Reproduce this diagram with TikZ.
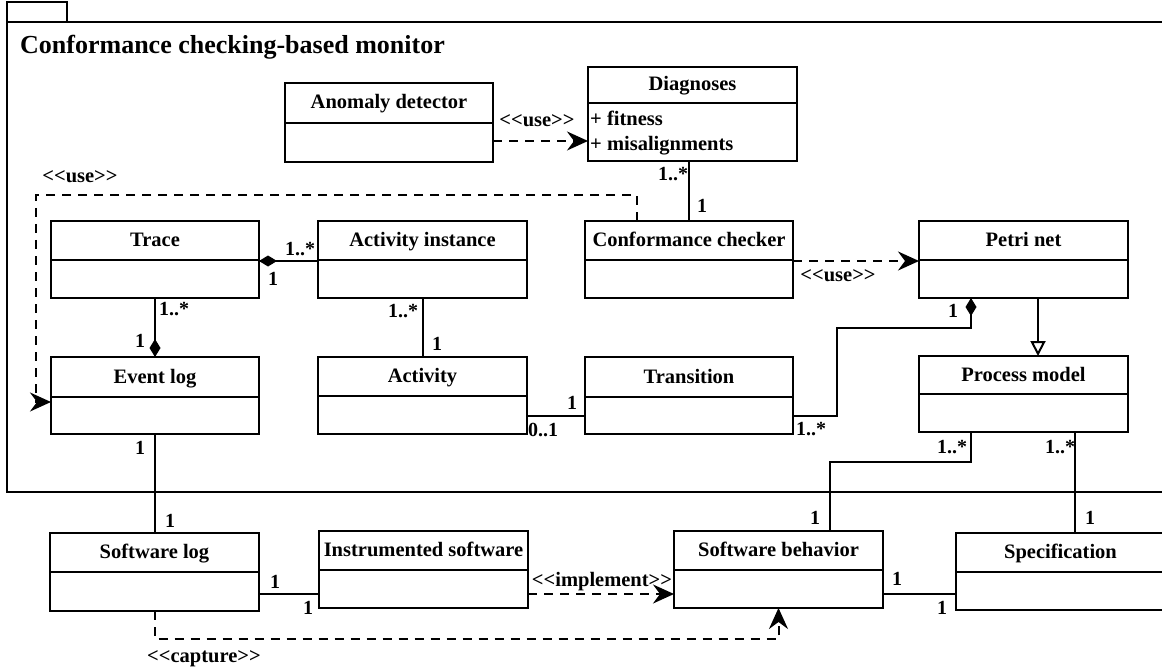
\documentclass[tikz,border=0pt]{standalone}
\usepackage{fontspec}
\setmainfont{Liberation Serif}
\usetikzlibrary{arrows.meta}

\tikzset{
  clsbox/.style={draw, line width=2pt, inner sep=0pt, outer sep=0pt, anchor=north west},
  clsline/.style={line width=2pt},
  clsname/.style={font=\fontsize{20.5}{24}\bfseries\selectfont, inner sep=0pt, anchor=base},
  attr/.style={font=\fontsize{20.5}{24}\bfseries\selectfont, inner sep=0pt, anchor=base west},
  mult/.style={font=\fontsize{20}{24}\bfseries\selectfont, inner sep=0pt, anchor=base},
  stereo/.style={font=\fontsize{20.5}{24}\bfseries\selectfont, inner sep=0pt, anchor=base},
  assoc/.style={line width=2pt},
  depend/.style={line width=2pt, dash pattern=on 9pt off 7pt,
    -{Stealth[length=21pt,width=19pt,inset=7pt]}},
  compose/.style={line width=2pt, -{Diamond[length=18pt,width=11pt]}},
  inherit/.style={line width=2pt, -{Triangle[open,length=15pt,width=15pt]}},
  frame/.style={line width=1.2pt},
}

% UML class: id, left, top, width, height, header height, name
\newcommand\umlcls[7]{%
  \node[clsbox, minimum width=#4pt, minimum height=#5pt] (#1) at (#2,#3) {};
  \draw[clsline] ([yshift=-#6pt]#1.north west) -- ([yshift=-#6pt]#1.north east);
  \node[clsname] (#1-name) at ([yshift=-#6pt/2-6pt]#1.north) {#7};
}
% stereotype guillemets spelled as two separate angle brackets
\newcommand\ster[1]{<\kern0pt<#1>\kern0pt>}

\begin{document}
\begin{tikzpicture}[x=1pt,y=-1pt]
\clip (0,0) rectangle (1162,671);
\fill[white] (0,0) rectangle (1162,671);

% package frame
\draw[frame] (7,2) rectangle (67,22);
\draw[frame] (7,22) rectangle (1185,492);
\node[font=\fontsize{26}{30}\bfseries\selectfont, anchor=base west, inner sep=0pt]
  (title) at (20,54) {Conformance checking-based monitor};

% classes
\umlcls{anom}{285}{83}{208}{79}{40}{Anomaly detector}
\umlcls{diag}{588}{67}{209}{94}{36}{Diagnoses}
\node[attr] (fit) at (590,126) {+ fitness};
\node[attr] (mis) at (590,151) {+ misalignments};
\umlcls{trace}{51}{221}{208}{77}{39}{Trace}
\umlcls{ainst}{318}{221}{209}{77}{39}{Activity instance}
\umlcls{cc}{585}{221}{208}{77}{39}{Conformance checker}
\umlcls{petri}{919}{221}{209}{77}{39}{Petri net}
\umlcls{elog}{51}{357}{208}{77}{40}{Event log}
\umlcls{act}{318}{357}{209}{77}{39}{Activity}
\umlcls{trans}{585}{357}{208}{77}{40}{Transition}
\umlcls{pm}{919}{356}{209}{76}{38}{Process model}
\umlcls{swlog}{50}{533}{209}{78}{39}{Software log}
\umlcls{instr}{319}{531}{209}{77}{39}{Instrumented software}
\umlcls{swb}{674}{531}{209}{77}{39}{Software behavior}
\umlcls{spec}{956}{533}{209}{77}{39}{Specification}

% connector anchor points
\coordinate (ccuse) at ([xshift=-52pt]cc.north);
\coordinate (petrid) at ([xshift=52pt]petri.south west);
\coordinate (petrig) at ([xshift=119pt]petri.south west);
\coordinate (pmg) at ([xshift=119pt]pm.north west);
\coordinate (pml) at ([xshift=52pt]pm.south west);
\coordinate (pmr) at ([xshift=156pt]pm.south west);
\coordinate (swbin) at ([xshift=156pt]swb.north west);

% connectors
\draw[depend] (anom.east |- 0,141) -- (diag.west |- 0,141);
\draw[assoc] (diag.south -| cc.north) -- (cc.north);
\draw[depend] (ccuse) |- (36,195) |- (elog.west |- 0,402);
\draw[compose] (ainst.west |- 0,261) -- (trace.east |- 0,261);
\draw[compose] (trace.south) -- (elog.north);
\draw[assoc] (ainst.south) -- (ainst.south |- act.north);
\draw[assoc] (act.east |- 0,416) -- (trans.west |- 0,416);
\draw[depend] (cc.east |- 0,261) -- (petri.west |- 0,261);
\draw[compose] (trans.east |- 0,416) -| (837,328) -| (petrid);
\draw[inherit] (petrig) -- (pmg);
\draw[assoc] (elog.south) -- (elog.south |- swlog.north);
\draw[assoc] (pml) |- (swbin |- 0,462) -- (swbin);
\draw[assoc] (pmr) -- (pmr |- spec.north);
\draw[assoc] (swlog.east |- 0,594) -- (instr.west |- 0,594);
\draw[depend] (instr.east |- 0,594) -- (swb.west |- 0,594);
\draw[assoc] (swb.east |- 0,594) -- (spec.west |- 0,594);
\draw[depend] (swlog.south) |- (swb.south |- 0,639) -- (swb.south);

% stereotypes
\node[stereo] (s1) at (537,127) {\ster{use}};
\node[stereo] (s2) at (80,183) {\ster{use}};
\node[stereo] (s3) at (838,281) {\ster{use}};
\node[stereo] (s4) at (602,586) {\ster{implement}};
\node[stereo] (s5) at (204,662) {\ster{capture}};

% multiplicities
\node[mult] (m1) at (673,181) {1..*};
\node[mult] (m2) at (702,213) {1};
\node[mult] (m3) at (300,255) {1..*};
\node[mult] (m4) at (273,285) {1};
\node[mult] (m5) at (174,315) {1..*};
\node[mult] (m6) at (140,347) {1};
\node[mult] (m7) at (403,317) {1..*};
\node[mult] (m8) at (437,350) {1};
\node[mult] (m9) at (572,409) {1};
\node[mult] (m10) at (543,436) {0..1};
\node[mult] (m11) at (811,435) {1..*};
\node[mult] (m12) at (953,317) {1};
\node[mult] (m13) at (952,453) {1..*};
\node[mult] (m14) at (815,524) {1};
\node[mult] (m15) at (1060,453) {1..*};
\node[mult] (m16) at (1090,524) {1};
\node[mult] (m17) at (140,454) {1};
\node[mult] (m18) at (170,527) {1};
\node[mult] (m19) at (275,588) {1};
\node[mult] (m20) at (308,614) {1};
\node[mult] (m21) at (897,585) {1};
\node[mult] (m22) at (942,614) {1};
\end{tikzpicture}
\end{document}
